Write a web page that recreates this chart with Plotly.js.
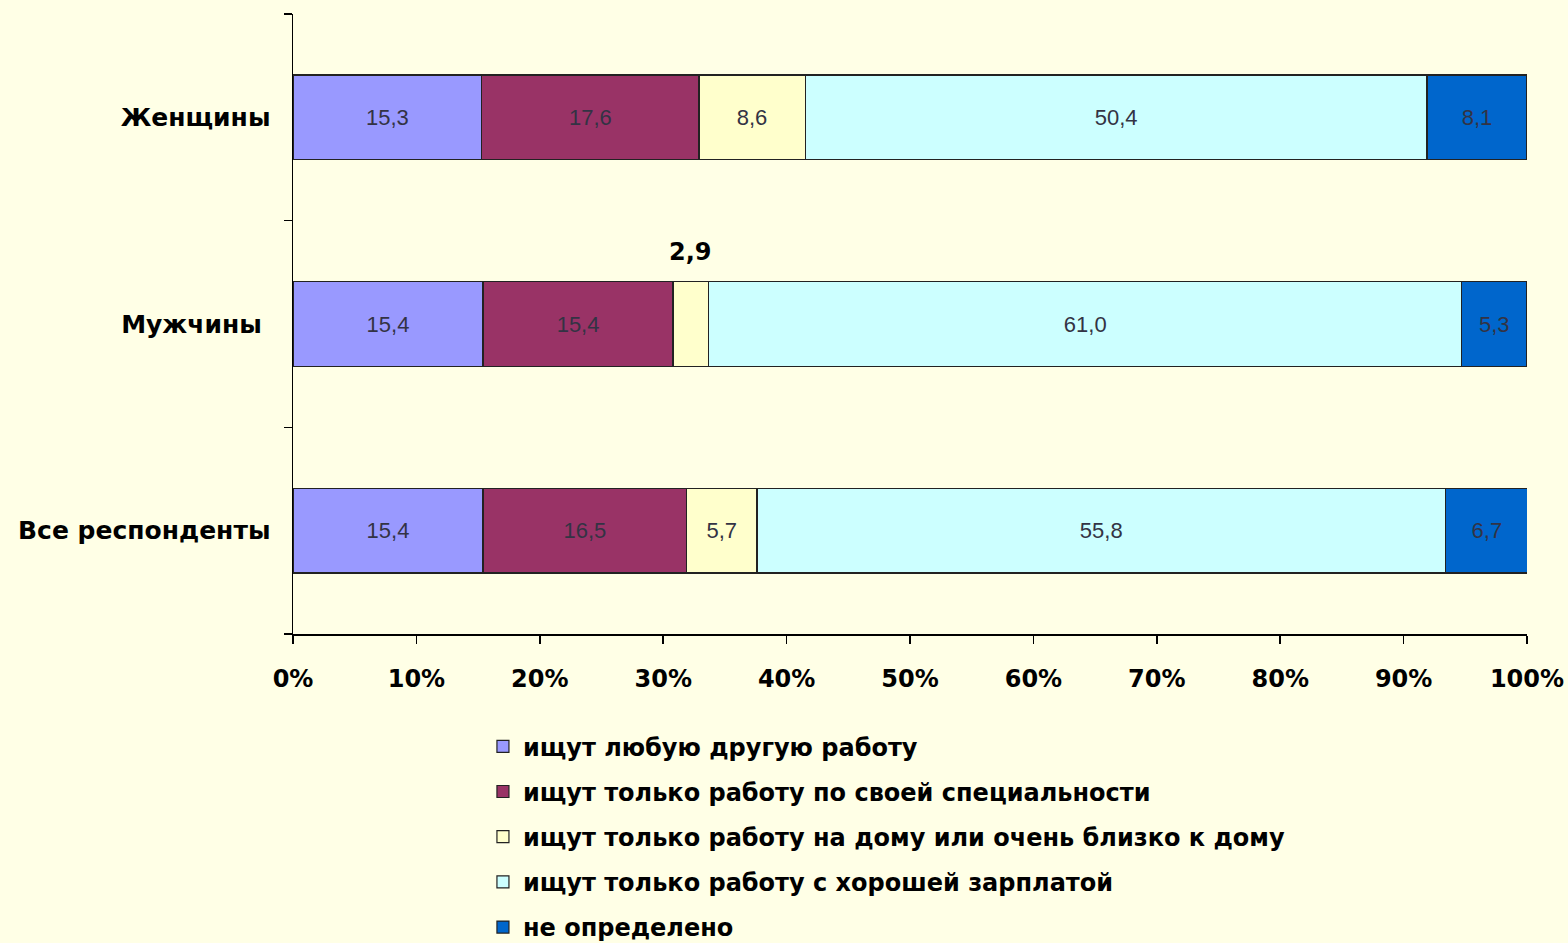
<!DOCTYPE html>
<html>
<head>
<meta charset="utf-8">
<script src="https://cdn.plot.ly/plotly-3.0.1.min.js"></script>
<style>html,body{margin:0;padding:0;background:#FFFFE6;}</style>
</head>
<body>
<div id="chart" style="width:1568px;height:943px;"></div>
<script>
const categories = ['Все респонденты', 'Мужчины ', 'Женщины'];
const seriesNames = [
  'ищут любую другую работу',
  'ищут только работу по своей специальности',
  'ищут только работу на дому или очень близко к дому',
  'ищут только работу с хорошей зарплатой',
  'не определено'
];
// values ordered as categories: [Все, Мужчины, Женщины]
const anyJob      = [15.4, 15.4, 15.3];
const specialty   = [16.5, 15.4, 17.6];
const nearHome    = [5.7, 2.9, 8.6];
const goodSalary  = [55.8, 61.0, 50.4];
const undecided   = [6.7, 5.3, 8.1];
const colors = ['#9999FF', '#993366', '#FFFFCC', '#CCFFFF', '#0066CC'];
const xTickVals = [0,10,20,30,40,50,60,70,80,90,100];
const xTickText = xTickVals.map(v => '<b>' + v + '%</b>');

const series = [anyJob, specialty, nearHome, goodSalary, undecided];
const fmt = v => v.toFixed(1).replace('.', ',');
const boldFont = 'DejaVu Sans, Verdana, sans-serif';

const traces = series.map((vals, i) => ({
  type: 'bar',
  orientation: 'h',
  name: '<b>' + seriesNames[i] + '</b>',
  y: categories,
  x: vals,
  text: vals.map((v, j) => (i === 2 && j === 1) ? '' : fmt(v)),
  textposition: 'inside',
  insidetextanchor: 'middle',
  textangle: 0,
  constraintext: 'none',
  textfont: {family: 'Liberation Sans, Arial, sans-serif', size: 22, color: '#333344'},
  marker: {color: colors[i], line: {color: '#222222', width: 1.2}},
  width: 0.41,
  legendgroup: 'g' + i,
  hoverinfo: 'none'
}));

const menIdx = 1;
const annX = anyJob[menIdx] + specialty[menIdx] + nearHome[menIdx] / 2;

const layout = {
  width: 1568, height: 943,
  paper_bgcolor: '#FFFFE6',
  plot_bgcolor: '#FFFFE6',
  barmode: 'stack',
  margin: {l: 293, r: 41, t: 14, b: 309, autoexpand: false},
  font: {family: boldFont, color: '#000'},
  xaxis: {
    range: [0, 100],
    tickvals: xTickVals,
    ticktext: xTickText,
    ticks: 'outside', ticklen: 8, tickwidth: 1.5, tickcolor: '#000',
    showline: true, linecolor: '#000', linewidth: 1.5,
    showgrid: false, zeroline: false,
    automargin: false,
    tickfont: {family: boldFont, size: 24, color: '#000'},
    ticklabelstandoff: 15,
    fixedrange: true
  },
  yaxis: {
    categoryorder: 'array', categoryarray: categories,
    range: [-0.5, 2.5],
    ticks: 'outside', ticklen: 8, tickwidth: 1.5, tickcolor: '#000',
    tickson: 'boundaries',
    showline: true, linecolor: '#000', linewidth: 1.5,
    showgrid: false, zeroline: false,
    automargin: false,
    tickvals: categories,
    ticktext: categories.map(c => '<b>' + c + '</b>'),
    tickfont: {family: boldFont, size: 25, color: '#000'},
    ticklabelstandoff: 16,
    fixedrange: true
  },
  showlegend: true,
  legend: {
    orientation: 'v',
    xref: 'container', yref: 'container',
    x: 0.308, xanchor: 'left',
    y: 0.232, yanchor: 'top',
    bgcolor: 'rgba(0,0,0,0)',
    font: {family: boldFont, size: 24, color: '#000'},
    tracegroupgap: 11,
    traceorder: 'grouped',
    itemwidth: 30
  },
  annotations: [{
    x: annX, y: categories[menIdx],
    xref: 'x', yref: 'y',
    text: '<b>' + fmt(nearHome[menIdx]) + '</b>',
    showarrow: false,
    yshift: 72,
    font: {family: boldFont, size: 24, color: '#000'}
  }]
};

Plotly.newPlot('chart', traces, layout, {displayModeBar: false, staticPlot: true});
</script>
</body>
</html>
